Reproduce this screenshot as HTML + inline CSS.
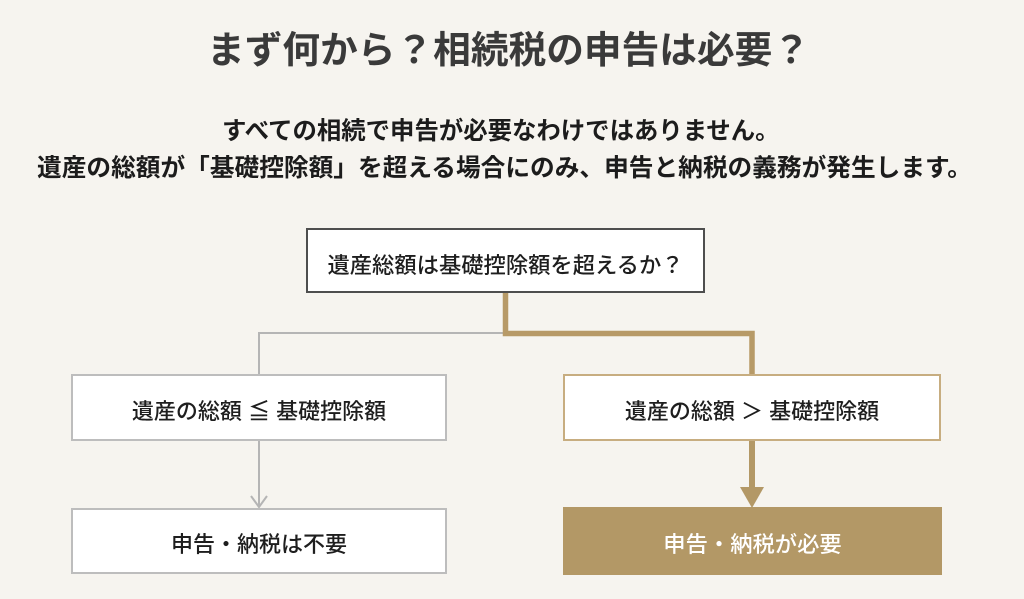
<!DOCTYPE html>
<html lang="ja">
<head>
<meta charset="utf-8">
<style>
  html, body { margin:0; padding:0; }
  body {
    width:1024px; height:599px; overflow:hidden; position:relative;
    background:#f6f4ef;
    font-family:"Liberation Sans","Noto Sans CJK JP",sans-serif;
  }
  .t { position:absolute; white-space:nowrap; }
  .title { left:207px; top:32px; font-size:37.7px; line-height:37px; font-weight:700; color:#3a3a3a; }
  .l1 { left:222px; top:120px; font-size:24.4px; line-height:24px; font-weight:700; color:#1c1c1c; }
  .l2 { left:37px; top:157px; font-size:24.7px; line-height:24px; font-weight:700; color:#1c1c1c; }
  .box {
    position:absolute; box-sizing:border-box; display:flex; align-items:center; justify-content:center;
    white-space:nowrap; font-weight:500; color:#1e1e1e; background:#fff;
  }
  .top { left:306px; top:228px; width:399px; height:65px; border:2px solid #4e4e4e; font-size:22.3px; padding-top:6px; }
  .lb1 { left:71px; top:374px; width:376px; height:67px; border:2px solid #bdbdbd; font-size:22px; padding-top:5px; }
  .lb2 { left:71px; top:508px; width:376px; height:66px; border:2px solid #bdbdbd; font-size:22px; padding-top:4px; }
  .rb1 { left:563px; top:374px; width:378px; height:67px; border:2px solid #c7ad80; font-size:22px; padding-top:5px; }
  .rb2 { left:563px; top:507px; width:379px; height:68px; background:#b39866; color:#fff; font-size:22.3px; padding-top:4px; }
  svg { position:absolute; left:0; top:0; }
</style>
</head>
<body>
<div class="t title">まず何から？相続税の申告は必要？</div>
<div class="t l1">すべての相続で申告が必要なわけではありません。</div>
<div class="t l2">遺産の総額が「基礎控除額」を超える場合にのみ、申告と納税の義務が発生します。</div>

<svg width="1024" height="599" viewBox="0 0 1024 599">
  <!-- gray path -->
  <polyline points="504,333 259,333 259,375" fill="none" stroke="#b5b5b5" stroke-width="2"/>
  <line x1="259" y1="441" x2="259" y2="507" stroke="#b5b5b5" stroke-width="2"/>
  <polyline points="251,496 259,507 267,496" fill="none" stroke="#b5b5b5" stroke-width="2"/>
  <!-- gold path -->
  <polyline points="505.5,293 505.5,333.5 752,333.5 752,375" fill="none" stroke="#b79a67" stroke-width="5.5"/>
  <line x1="752" y1="441" x2="752" y2="490" stroke="#b39866" stroke-width="6"/>
  <polygon points="740,487 764,487 752,508" fill="#b39866"/>
</svg>

<div class="box top">遺産総額は基礎控除額を超えるか？</div>
<div class="box lb1">遺産の総額 ≦ 基礎控除額</div>
<div class="box lb2">申告・納税は不要</div>
<div class="box rb1">遺産の総額 ＞ 基礎控除額</div>
<div class="box rb2">申告・納税が必要</div>
</body>
</html>
